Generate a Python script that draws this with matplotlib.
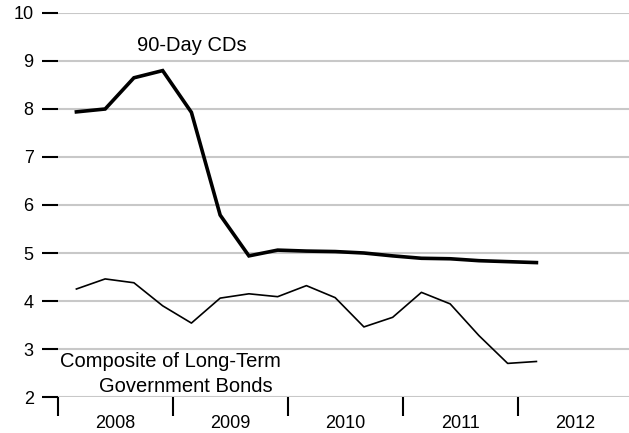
import matplotlib
matplotlib.use("Agg")
import matplotlib.pyplot as plt
import numpy as np

plt.rcParams["font.family"] = ["Liberation Sans", "DejaVu Sans"]

# quarterly observations, 2008 Q1 .. 2012 Q1
quarter_pos = 2008.16 + 0.25 * np.arange(17)
cd_rates = [7.94, 8.00, 8.65, 8.80, 7.93, 5.79, 4.94, 5.06, 5.04, 5.03,
            5.00, 4.94, 4.89, 4.88, 4.84, 4.82, 4.80]
bond_rates = [4.25, 4.46, 4.38, 3.90, 3.54, 4.06, 4.15, 4.09, 4.32, 4.07,
              3.46, 3.66, 4.18, 3.94, 3.28, 2.70, 2.74]
years = [2008, 2009, 2010, 2011, 2012]
y_ticks = [2, 3, 4, 5, 6, 7, 8, 9, 10]

fig = plt.figure(figsize=(6.29, 4.33), dpi=100)
ax = fig.add_axes([58 / 629, 1 - 397 / 433, 1 - 58 / 629, 384 / 433])

for v in y_ticks:
    ax.axhline(v, color="#c8c8c8", lw=1.5, zorder=1)

ax.plot(quarter_pos, cd_rates, color="black", lw=2.6, zorder=3,
        solid_joinstyle="miter")
ax.plot(quarter_pos, bond_rates, color="black", lw=1.2, zorder=3)

ax.set_xlim(2008, 2012.965)
ax.set_ylim(2, 10)
ax.set_yticks(y_ticks)
ax.set_yticklabels([str(v) for v in y_ticks], fontsize=13)
ax.tick_params(axis="y", length=11.5, width=1.5, pad=6, color="black")

ax.set_xticks(years)
ax.set_xticklabels([])
ax.set_xticks([y + 0.5 for y in years], minor=True)
ax.set_xticklabels([str(y) for y in years], minor=True, fontsize=13)
ax.tick_params(axis="x", which="major", length=14, width=1.5, color="black")
ax.tick_params(axis="x", which="minor", length=0, pad=13)

for s in ax.spines.values():
    s.set_visible(False)

ax.text(2009.16, 9.33, "90-Day CDs", fontsize=14.5, ha="center", va="center")
ax.text(2008.98, 2.73, "Composite of Long-Term", fontsize=14.5,
        ha="center", va="center")
ax.text(2009.11, 2.21, "Government Bonds", fontsize=14.5,
        ha="center", va="center")

fig.savefig("out.png", dpi=100)
plt.close(fig)
